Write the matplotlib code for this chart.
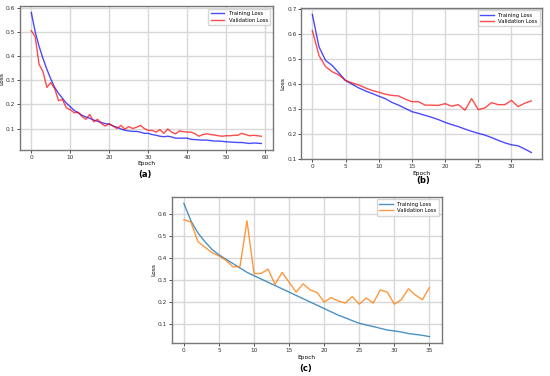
import matplotlib.pyplot as plt
import numpy as np

# panel (a)
train_a = [0.58, 0.50, 0.44, 0.39, 0.345, 0.305, 0.27, 0.245, 0.225, 0.205,
           0.19, 0.175, 0.165, 0.155, 0.148, 0.142, 0.135, 0.13, 0.125, 0.12,
           0.118, 0.11, 0.105, 0.098, 0.093, 0.09, 0.088, 0.088, 0.085, 0.08,
           0.08, 0.075, 0.072, 0.068, 0.066, 0.068, 0.065, 0.06, 0.06, 0.06,
           0.06, 0.055, 0.054, 0.053, 0.052, 0.052, 0.05, 0.048, 0.048, 0.047,
           0.045, 0.044, 0.043, 0.042, 0.042, 0.04, 0.038, 0.04, 0.039, 0.038]
val_a = [0.505, 0.48, 0.365, 0.335, 0.27, 0.29, 0.265, 0.215, 0.22, 0.185,
         0.178, 0.165, 0.168, 0.15, 0.138, 0.158, 0.128, 0.138, 0.12, 0.11,
         0.12, 0.11, 0.1, 0.113, 0.097, 0.108, 0.1, 0.105, 0.113, 0.1,
         0.092, 0.092, 0.085, 0.095, 0.08, 0.098, 0.085, 0.078, 0.09, 0.087,
         0.085, 0.085, 0.078, 0.068, 0.075, 0.078, 0.075, 0.073, 0.07, 0.068,
         0.07, 0.07, 0.072, 0.072, 0.08, 0.075, 0.07, 0.072, 0.07, 0.068]

# panel (b)
train_b = [0.68, 0.55, 0.495, 0.475, 0.445, 0.415, 0.4, 0.385, 0.373, 0.363,
           0.352, 0.342, 0.327, 0.316, 0.303, 0.29, 0.283, 0.275, 0.267, 0.258,
           0.247, 0.238, 0.23, 0.22, 0.211, 0.203, 0.196, 0.186, 0.175, 0.165,
           0.157, 0.153, 0.14, 0.126]
val_b = [0.615, 0.515, 0.47, 0.45, 0.437, 0.415, 0.405, 0.397, 0.385, 0.375,
         0.368, 0.36, 0.355, 0.353, 0.34, 0.33, 0.33, 0.316, 0.316, 0.315,
         0.322, 0.312, 0.318, 0.296, 0.342, 0.298, 0.305, 0.326, 0.318, 0.318,
         0.335, 0.31, 0.324, 0.333]

# panel (c)
train_c = [0.65, 0.57, 0.515, 0.475, 0.44, 0.415, 0.395, 0.375, 0.355, 0.335,
           0.32, 0.305, 0.29, 0.275, 0.26, 0.245, 0.23, 0.215, 0.2, 0.185,
           0.17, 0.155, 0.14, 0.128, 0.115, 0.103, 0.095, 0.088, 0.08, 0.072,
           0.068, 0.063, 0.056, 0.052, 0.048, 0.042]
val_c = [0.575, 0.565, 0.475, 0.45, 0.425, 0.41, 0.39, 0.36, 0.362, 0.57,
         0.33, 0.33, 0.35, 0.28, 0.335, 0.29, 0.245, 0.283, 0.255, 0.243,
         0.2, 0.22, 0.205, 0.195, 0.225, 0.19, 0.218, 0.195, 0.255, 0.245,
         0.19, 0.21, 0.26, 0.232, 0.21, 0.265]

fs = 4.2

def style(ax, xticks, yticks):
    ax.grid(True, color="#d8d8d8", lw=1.0)
    ax.set_axisbelow(True)
    for s in ax.spines.values():
        s.set_color("#777777")
        s.set_linewidth(1.0)
    ax.set_xticks(xticks)
    ax.set_yticks(yticks)
    ax.tick_params(labelsize=fs, length=2, width=0.6, pad=1.5, colors="#333333")
    ax.set_xlabel("Epoch", fontsize=fs, labelpad=1)
    ax.set_ylabel("Loss", fontsize=fs, labelpad=1)
    ax.legend(loc=1, fontsize=3.8, handlelength=2.6, borderpad=0.45, labelspacing=0.3)

fig = plt.figure(figsize=(5.5, 3.76), dpi=100)

ax = fig.add_axes([0.036, 0.601, 0.46, 0.383])
ax.plot(np.arange(len(train_a)), train_a, color="blue", alpha=0.7, lw=1.0, label="Training Loss")
ax.plot(np.arange(len(val_a)), val_a, color="red", alpha=0.7, lw=1.0, label="Validation Loss")
style(ax, [0, 10, 20, 30, 40, 50, 60], [0.1, 0.2, 0.3, 0.4, 0.5, 0.6])
fig.text(0.264, 0.537, "(a)", fontsize=6, fontweight="bold", ha="center", va="center")

ax = fig.add_axes([0.548, 0.576, 0.438, 0.404])
ax.plot(np.arange(len(train_b)), train_b, color="blue", alpha=0.7, lw=1.0, label="Training Loss")
ax.plot(np.arange(len(val_b)), val_b, color="red", alpha=0.7, lw=1.0, label="Validation Loss")
style(ax, [0, 5, 10, 15, 20, 25, 30], [0.1, 0.2, 0.3, 0.4, 0.5, 0.6, 0.7])
fig.text(0.769, 0.519, "(b)", fontsize=6, fontweight="bold", ha="center", va="center")

ax = fig.add_axes([0.312, 0.087, 0.491, 0.39])
ax.plot(np.arange(len(train_c)), train_c, color="tab:blue", alpha=0.8, lw=1.0, label="Training Loss")
ax.plot(np.arange(len(val_c)), val_c, color="tab:orange", alpha=0.8, lw=1.0, label="Validation Loss")
style(ax, [0, 5, 10, 15, 20, 25, 30, 35], [0.1, 0.2, 0.3, 0.4, 0.5, 0.6])
fig.text(0.555, 0.021, "(c)", fontsize=6, fontweight="bold", ha="center", va="center")

fig.savefig("out.png", dpi=100)
